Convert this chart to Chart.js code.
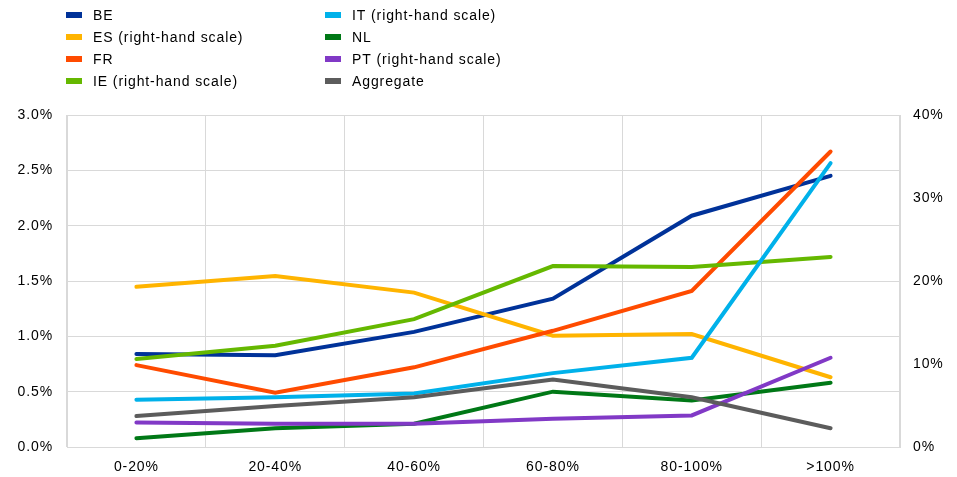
<!DOCTYPE html>
<html>
<head>
<meta charset="utf-8">
<script src="https://cdn.jsdelivr.net/npm/chart.js@4/dist/chart.umd.min.js"></script>
<style>
  body { margin: 0; background: #fff; }
</style>
</head>
<body>
<canvas id="riskChart" width="957" height="477"></canvas>
<script>
// categories on the x axis
const categories = ['0-20%', '20-40%', '40-60%', '60-80%', '80-100%', '>100%'];

// left-hand scale series (%)
const be = [0.84, 0.83, 1.04, 1.34, 2.09, 2.45];
const fr = [0.74, 0.49, 0.72, 1.05, 1.41, 2.67];
const nl = [0.08, 0.17, 0.21, 0.50, 0.42, 0.58];
const aggregate = [0.28, 0.37, 0.45, 0.61, 0.45, 0.17];

// right-hand scale series (%)
const es = [19.3, 20.6, 18.6, 13.4, 13.6, 8.4];
const ie = [10.6, 12.2, 15.4, 21.8, 21.7, 22.9];
const it = [5.7, 6.0, 6.45, 8.9, 10.75, 34.2];
const pt = [2.95, 2.8, 2.8, 3.4, 3.8, 10.75];

// tick labels
const leftTicks = [0, 0.5, 1, 1.5, 2, 2.5, 3];
const rightTicks = [0, 10, 20, 30, 40];

const font = { family: "'Liberation Sans', Arial, sans-serif", size: 14 };
const gridColor = '#d9d9d9';
const spacing = '0.9px'; // text in the original is a bit wider than Arial

function line(label, data, color, axis) {
    return {
        label: label,
        data: data,
        yAxisID: axis,
        borderColor: color,
        backgroundColor: color,
        borderWidth: 4,
        borderCapStyle: 'round',
        pointRadius: 0,
        tension: 0,
        fill: false
    };
}

const datasets = [
    line('BE', be, '#003299', 'y'),
    line('ES (right-hand scale)', es, '#ffb400', 'y1'),
    line('FR', fr, '#ff4b00', 'y'),
    line('IE (right-hand scale)', ie, '#65b800', 'y1'),
    line('IT (right-hand scale)', it, '#00b1ea', 'y1'),
    line('NL', nl, '#007816', 'y'),
    line('PT (right-hand scale)', pt, '#8139c6', 'y1'),
    line('Aggregate', aggregate, '#5c5c5c', 'y')
];
// later series drawn on top
datasets.forEach(function (ds, i) { ds.order = datasets.length - i; });

// widen text a little
const textSpacing = {
    id: 'textSpacing',
    beforeUpdate: function (chart) { chart.ctx.letterSpacing = spacing; },
    beforeDraw: function (chart) { chart.ctx.letterSpacing = spacing; }
};

// two-column legend drawn on the canvas
const legendTwoCols = {
    id: 'legendTwoCols',
    afterDraw: function (chart) {
        const ctx = chart.ctx;
        ctx.save();
        ctx.letterSpacing = spacing;
        ctx.font = font.size + 'px ' + font.family;
        ctx.textBaseline = 'middle';
        chart.data.datasets.forEach(function (ds, i) {
            const col = Math.floor(i / 4);
            const row = i % 4;
            const x = col === 0 ? 66 : 325;
            const y = 15 + row * 22;
            ctx.fillStyle = ds.borderColor;
            ctx.fillRect(x, y - 3, 16, 6);
            ctx.fillStyle = '#000';
            ctx.fillText(ds.label, x + 27, y + 1);
        });
        ctx.restore();
    }
};

const config = {
    type: 'line',
    data: {
        labels: categories,
        datasets: datasets
    },
    options: {
        responsive: false,
        animation: false,
        layout: { padding: { top: 115 } },
        plugins: {
            legend: { display: false },
            tooltip: { enabled: false }
        },
        scales: {
            x: {
                offset: true,
                grid: { color: gridColor, offset: true, drawTicks: false },
                border: { color: gridColor },
                ticks: { color: '#000', font: font, padding: 12, maxRotation: 0 },
                afterFit: function (scale) { scale.height = 30; }
            },
            y: {
                position: 'left',
                min: 0,
                max: 3,
                afterBuildTicks: function (scale) {
                    scale.ticks = leftTicks.map(function (v) { return { value: v }; });
                },
                grid: { color: gridColor, drawTicks: false },
                border: { color: gridColor },
                ticks: {
                    color: '#000',
                    font: font,
                    padding: 14,
                    callback: function (v) { return v.toFixed(1) + '%'; }
                },
                afterFit: function (scale) { scale.width = 67; }
            },
            y1: {
                position: 'right',
                min: 0,
                max: 40,
                afterBuildTicks: function (scale) {
                    scale.ticks = rightTicks.map(function (v) { return { value: v }; });
                },
                grid: { display: false, drawTicks: false },
                border: { color: gridColor },
                ticks: {
                    color: '#000',
                    font: font,
                    padding: 13,
                    callback: function (v) { return v + '%'; }
                },
                afterFit: function (scale) { scale.width = 57; }
            }
        }
    },
    plugins: [textSpacing, legendTwoCols]
};

const ctx = document.getElementById('riskChart').getContext('2d');
const riskChart = new Chart(ctx, config);
</script>
</body>
</html>
